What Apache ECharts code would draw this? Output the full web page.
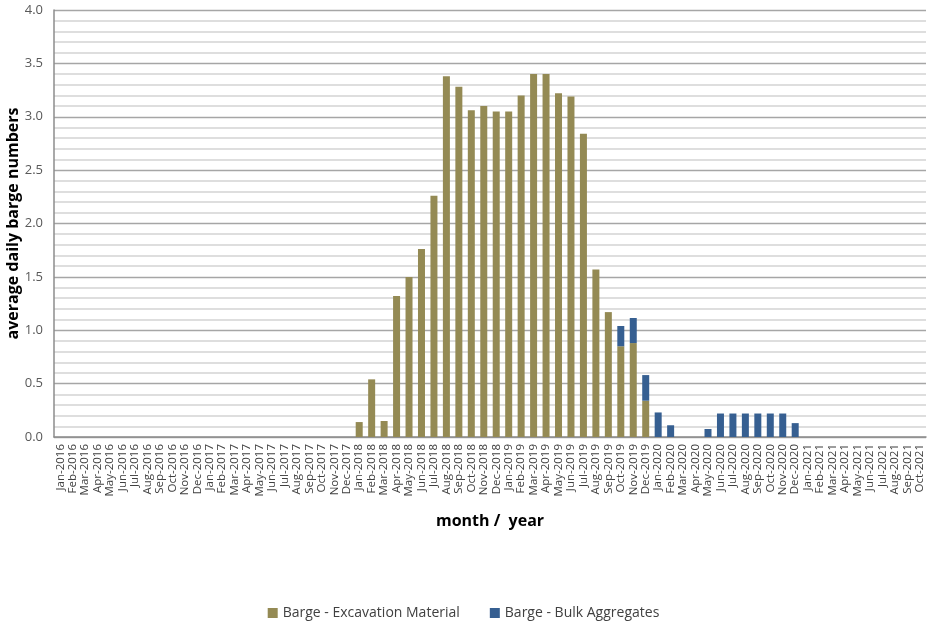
<!DOCTYPE html>
<html>
<head>
<meta charset="utf-8">
<script src="https://cdn.jsdelivr.net/npm/echarts@6/dist/echarts.min.js"></script>
<style>
  html, body { margin: 0; padding: 0; background: #fff; }
  #chart { width: 927px; height: 624px; }
</style>
</head>
<body>
<div id="chart"></div>
<script>
var monthNames = ['Jan', 'Feb', 'Mar', 'Apr', 'May', 'Jun', 'Jul', 'Aug', 'Sep', 'Oct', 'Nov', 'Dec'];
var months = [];
for (var y = 2016; y <= 2021; y++) {
    for (var m = 0; m < 12; m++) {
        if (y == 2021 && m > 9) break;
        months.push(monthNames[m] + '-' + y);
    }
}

// Jan-2016 .. Dec-2017 are empty, values start at Jan-2018
var excavation = [
    0, 0, 0, 0, 0, 0, 0, 0, 0, 0, 0, 0,
    0, 0, 0, 0, 0, 0, 0, 0, 0, 0, 0, 0,
    0.14, 0.54, 0.15, 1.32, 1.50, 1.76, 2.26, 3.38, 3.28, 3.06, 3.10, 3.05,
    3.05, 3.20, 3.40, 3.40, 3.22, 3.19, 2.84, 1.57, 1.17, 0.85, 0.88, 0.34,
    0, 0, 0, 0, 0, 0, 0, 0, 0, 0, 0, 0,
    0, 0, 0, 0, 0, 0, 0, 0, 0, 0
];
var aggregates = [
    0, 0, 0, 0, 0, 0, 0, 0, 0, 0, 0, 0,
    0, 0, 0, 0, 0, 0, 0, 0, 0, 0, 0, 0,
    0, 0, 0, 0, 0, 0, 0, 0, 0, 0, 0, 0,
    0, 0, 0, 0, 0, 0, 0, 0, 0, 0.19, 0.235, 0.24,
    0.23, 0.11, 0, 0, 0.075, 0.22, 0.22, 0.22, 0.22, 0.22, 0.22, 0.13,
    0, 0, 0, 0, 0, 0, 0, 0, 0, 0
];

var myChart = echarts.init(document.getElementById('chart'));

var option = {
    backgroundColor: '#fff',
    animation: false,
    textStyle: { fontFamily: 'Open Sans' },
    grid: {
        left: 54,
        right: 1,
        top: 10,
        bottom: 187,
        outerBoundsMode: 'none'
    },
    legend: {
        data: ['Barge - Excavation Material', 'Barge - Bulk Aggregates'],
        top: 601,
        left: 'center',
        itemWidth: 10,
        itemHeight: 10,
        itemGap: 30,
        icon: 'rect',
        textStyle: { fontSize: 14, color: '#404040', fontFamily: 'Open Sans' }
    },
    xAxis: {
        type: 'category',
        data: months,
        name: 'month /  year',
        nameLocation: 'middle',
        nameGap: 76,
        nameMoveOverlap: false,
        nameTextStyle: { fontSize: 16, fontWeight: 'bold', color: '#000' },
        axisLine: { lineStyle: { color: '#8c8c8c', width: 1.5 } },
        axisTick: { show: false },
        axisLabel: {
            interval: 0,
            rotate: 90,
            fontSize: 11.5,
            lineHeight: 12,
            color: '#404040',
            margin: 7
        }
    },
    yAxis: {
        type: 'value',
        min: 0,
        max: 4,
        interval: 0.5,
        name: 'average daily barge numbers',
        nameLocation: 'middle',
        nameGap: 33,
        nameMoveOverlap: false,
        nameTextStyle: { fontSize: 16, fontWeight: 'bold', color: '#000' },
        axisLine: { show: true, lineStyle: { color: '#8c8c8c', width: 1.5 } },
        axisTick: { show: false },
        axisLabel: {
            fontSize: 13,
            color: '#595959',
            margin: 11,
            formatter: function (v) { return v.toFixed(1); }
        },
        splitLine: { lineStyle: { color: '#a6a6a6', width: 1.3 } },
        minorTick: { show: false, splitNumber: 5 },
        minorSplitLine: { show: true, lineStyle: { color: '#dedede', width: 2 } }
    },
    series: [{
        name: 'Barge - Excavation Material',
        type: 'bar',
        stack: 'total',
        data: excavation,
        barWidth: 7,
        itemStyle: { color: '#948a54' }
    }, {
        name: 'Barge - Bulk Aggregates',
        type: 'bar',
        stack: 'total',
        data: aggregates,
        barWidth: 7,
        itemStyle: { color: '#365f91' }
    }]
};
myChart.setOption(option);
</script>
</body>
</html>
